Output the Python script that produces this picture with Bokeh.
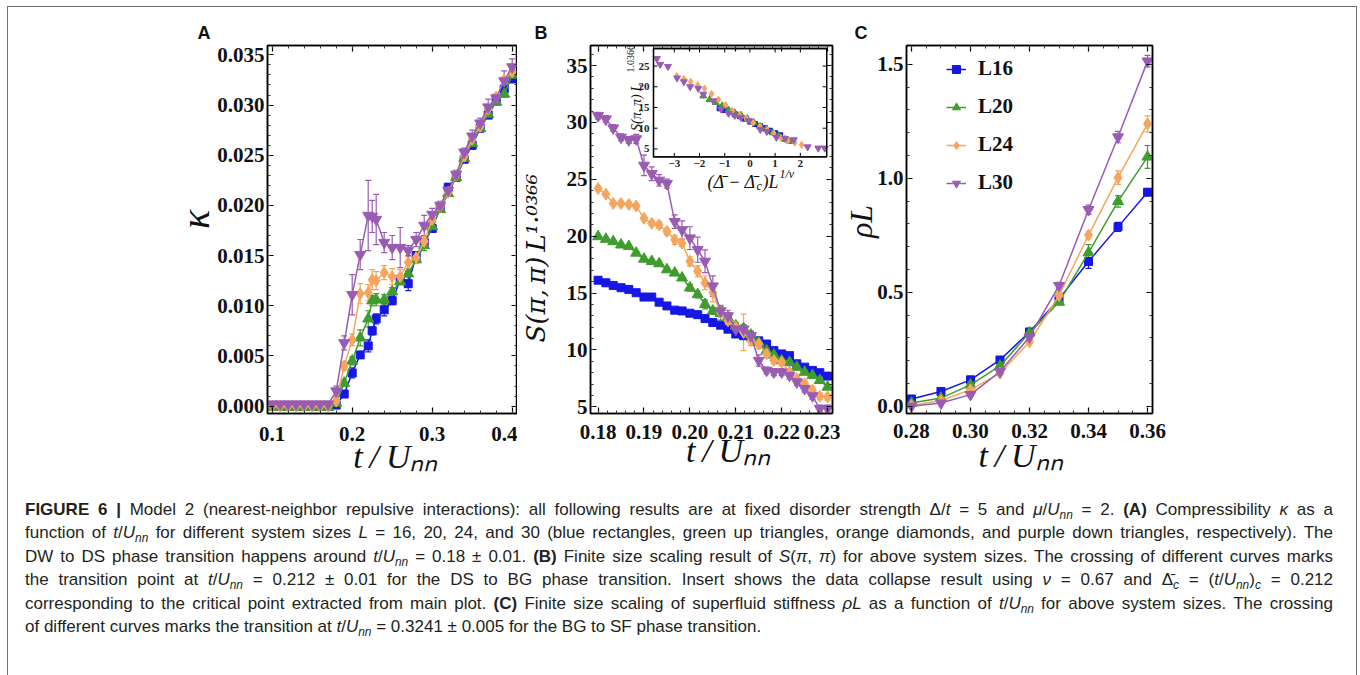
import numpy as np
from math import pi
from bokeh.plotting import figure
from bokeh.models import (ColumnDataSource, Whisker, TeeHead, Label, Legend, LegendItem,
                          LinearAxis, FixedTicker, Range1d, Div)
from bokeh.layouts import row, column
from bokeh.embed import file_html
from bokeh.resources import INLINE
from bokeh.core.properties import value

# ------------------------------------------------------------------ data
SERIES = ["L16", "L20", "L24", "L30"]

# Panel A : compressibility kappa vs t/U_nn
A_T = [0.10, 0.11, 0.12, 0.13, 0.14, 0.15, 0.16, 0.17, 0.18, 0.19, 0.20, 0.21, 0.22, 0.225,
       0.23, 0.24, 0.25, 0.26, 0.27, 0.28, 0.29, 0.30, 0.31, 0.32, 0.33, 0.34, 0.35, 0.36,
       0.37, 0.38, 0.39, 0.40]
A_K16 = [0.0, 0.0, 0.0, 0.0, 0.0, 0.0, 0.0, 0.0, 0.0001, 0.0012, 0.0033, 0.0051, 0.0060, 0.0075,
         0.0087, 0.0096, 0.0105, 0.0126, 0.0122, 0.0150, 0.0163, 0.0177, 0.0198, 0.0218, 0.0228,
         0.0246, 0.0260, 0.0277, 0.0290, 0.0305, 0.0316, 0.0326]
A_K20 = [-0.0001, -0.0001, -0.0001, -0.0001, -0.0001, -0.0001, -0.0001, -0.0001, 0.0003, 0.0023,
         0.0045, 0.0068, 0.0087, 0.0105, 0.0106, 0.0106, 0.0114, 0.0124, 0.0132, 0.0146, 0.0160,
         0.0179, 0.0196, 0.0212, 0.0228, 0.0247, 0.0262, 0.0277, 0.0291, 0.0303, 0.0311, 0.0330]
A_K24 = [0.0, 0.0, 0.0, 0.0, 0.0, 0.0, 0.0, 0.0, 0.0005, 0.0040, 0.0066, 0.0112, 0.0113, 0.0126,
         0.0125, 0.0133, 0.0129, 0.0129, 0.0143, 0.0148, 0.0164, 0.0186, 0.0199, 0.0213, 0.0230,
         0.0249, 0.0266, 0.0279, 0.0296, 0.0308, 0.0325, 0.0333]
A_K30 = [0.0002, 0.0002, 0.0002, 0.0002, 0.0002, 0.0002, 0.0002, 0.0002, 0.0015, 0.0063, 0.0111,
         0.0151, 0.0190, 0.0189, 0.0186, 0.0163, 0.0158, 0.0158, 0.0155, 0.0166, 0.0180, 0.0191,
         0.0200, 0.0215, 0.0231, 0.0253, 0.0269, 0.0282, 0.0298, 0.0307, 0.0324, 0.0338]
A_E16 = [0.0001, 0.0001, 0.0001, 0.0001, 0.0001, 0.0001, 0.0001, 0.0001, 0.0002, 0.0003, 0.0005,
         0.0003, 0.0006, 0.0004, 0.0005, 0.0006, 0.0004, 0.0003, 0.0007, 0.0003, 0.0003, 0.0003,
         0.0003, 0.0004, 0.0003, 0.0003, 0.0004, 0.0003, 0.0003, 0.0003, 0.0003, 0.0003]
A_E20 = [0.0001, 0.0001, 0.0001, 0.0001, 0.0001, 0.0001, 0.0001, 0.0001, 0.0002, 0.0003, 0.0004,
         0.0008, 0.0008, 0.0005, 0.0006, 0.0005, 0.0004, 0.0003, 0.0003, 0.0003, 0.0005, 0.0003,
         0.0003, 0.0003, 0.0003, 0.0003, 0.0003, 0.0003, 0.0003, 0.0003, 0.0003, 0.0003]
A_E24 = [0.0001, 0.0001, 0.0001, 0.0001, 0.0001, 0.0001, 0.0001, 0.0001, 0.0003, 0.0004, 0.0006,
         0.0010, 0.0008, 0.0010, 0.0009, 0.0007, 0.0008, 0.0007, 0.0006, 0.0006, 0.0005, 0.0004,
         0.0003, 0.0003, 0.0003, 0.0003, 0.0004, 0.0003, 0.0003, 0.0003, 0.0003, 0.0003]
A_E30 = [0.0001, 0.0001, 0.0001, 0.0001, 0.0001, 0.0001, 0.0001, 0.0001, 0.0005, 0.0007, 0.0020,
         0.0015, 0.0035, 0.0016, 0.0025, 0.0010, 0.0012, 0.0020, 0.0005, 0.0007, 0.0010, 0.0006,
         0.0004, 0.0004, 0.0004, 0.0004, 0.0006, 0.0005, 0.0008, 0.0004, 0.0010, 0.0008]

# Panel B : S(pi,pi) L^1.0366 vs t/U_nn
B_T = [0.1800, 0.1817, 0.1833, 0.1850, 0.1867, 0.1883, 0.1900, 0.1917, 0.1933, 0.1950, 0.1967,
       0.1983, 0.2000, 0.2017, 0.2033, 0.2050, 0.2067, 0.2083, 0.2100, 0.2117, 0.2133, 0.2150,
       0.2167, 0.2183, 0.2200, 0.2217, 0.2233, 0.2250, 0.2267, 0.2283, 0.2300]
B_S16 = [16.13, 15.90, 15.67, 15.47, 15.32, 15.03, 14.65, 14.65, 14.20, 13.87, 13.50, 13.43, 13.23,
         13.10, 12.76, 12.41, 12.18, 11.83, 11.40, 11.25, 11.10, 10.80, 10.52, 9.94, 9.65, 9.50,
         8.78, 8.49, 8.20, 8.00, 7.70]
B_S20 = [19.97, 19.74, 19.53, 19.24, 19.10, 18.52, 17.99, 17.79, 17.59, 17.06, 16.77, 16.34, 15.47,
         14.88, 14.01, 13.43, 13.23, 12.85, 12.12, 11.89, 11.31, 10.67, 9.94, 9.56, 9.07, 8.92,
         8.49, 8.05, 7.76, 7.33, 6.74]
B_S24 = [24.19, 23.69, 22.88, 22.88, 22.79, 22.65, 21.57, 21.13, 20.99, 20.41, 19.68, 19.39, 17.79,
         16.92, 15.90, 15.03, 13.28, 12.56, 11.98, 11.54, 10.81, 10.52, 9.65, 9.07, 8.92, 8.05,
         7.47, 7.03, 6.45, 5.93, 5.87]
B_S30 = [30.58, 30.29, 29.50, 28.69, 28.46, 28.55, 26.22, 25.49, 24.91, 24.62, 21.28, 20.55, 19.83,
         18.81, 17.79, 15.61, 13.43, 12.99, 11.83, 11.83, 11.25, 9.07, 8.20, 8.05, 8.05, 7.76,
         7.18, 6.60, 5.96, 4.85, 4.85]
B_E16 = [0.15, 0.15, 0.15, 0.15, 0.15, 0.15, 0.15, 0.15, 0.15, 0.15, 0.15, 0.15, 0.15, 0.15, 0.2,
         0.2, 0.2, 0.2, 0.2, 0.2, 0.2, 0.15, 0.15, 0.15, 0.15, 0.15, 0.15, 0.15, 0.15, 0.15, 0.15]
B_E20 = [0.15, 0.15, 0.15, 0.15, 0.15, 0.15, 0.15, 0.15, 0.2, 0.2, 0.2, 0.2, 0.3, 0.3, 0.4, 0.3,
         0.6, 0.4, 0.3, 0.3, 0.3, 0.3, 0.3, 0.4, 0.4, 0.3, 0.2, 0.2, 0.2, 0.2, 0.2]
B_E24 = [0.2, 0.2, 0.2, 0.2, 0.2, 0.2, 0.2, 0.2, 0.3, 0.3, 0.4, 0.3, 0.4, 0.5, 0.6, 0.8, 0.4, 0.4,
         0.4, 1.6, 0.4, 0.4, 0.3, 0.3, 0.3, 0.3, 0.3, 0.3, 0.3, 0.3, 0.3]
B_E30 = [0.3, 0.3, 0.3, 0.3, 0.3, 0.4, 0.9, 0.6, 0.5, 0.4, 0.6, 0.8, 1.0, 1.1, 1.0, 0.9, 0.5, 0.5,
         0.5, 0.4, 0.4, 0.5, 0.3, 0.3, 0.3, 0.3, 0.3, 0.3, 0.3, 0.3, 0.3]

# Panel B inset : data collapse
IN_X16 = [-1.20, -1.00, -0.80, -0.60, -0.40, -0.20, 0.00, 0.20, 0.40, 0.60, 0.80, 1.00, 1.20]
IN_Y16 = [14.8, 14.4, 14.0, 13.4, 12.9, 12.3, 11.6, 11.0, 10.5, 10.0, 9.4, 8.8, 8.3]
IN_X20 = [-1.85, -1.60, -1.35, -1.10, -0.85, -0.60, -0.35, -0.10, 0.15, 0.40, 0.65, 0.90, 1.15,
          1.40, 1.60]
IN_Y20 = [17.8, 16.9, 16.2, 15.4, 14.4, 13.7, 13.1, 12.3, 11.4, 10.5, 9.8, 8.9, 8.2, 7.3, 6.8]
IN_X24 = [-2.90, -2.62, -2.35, -2.07, -1.80, -1.52, -1.25, -0.97, -0.70, -0.42, -0.15, 0.13, 0.40,
          0.68, 0.95, 1.23, 1.50, 1.78, 2.05]
IN_Y24 = [22.6, 21.9, 21.2, 20.4, 19.6, 18.3, 16.9, 15.6, 14.2, 13.2, 12.4, 11.3, 10.5, 9.6, 8.8,
          7.7, 7.0, 6.5, 6.0]
IN_X30 = [-3.69, -3.56, -3.25, -2.89, -2.62, -2.37, -2.05, -1.85, -1.45, -1.14, -0.85, -0.60,
          -0.36, -0.05, 0.41, 0.67, 1.05, 1.40, 1.74, 2.29, 2.71, 2.97]
IN_Y30 = [26.8, 25.4, 24.9, 22.1, 21.2, 20.0, 19.6, 18.2, 16.6, 14.6, 13.6, 13.1, 12.6, 11.8, 9.7,
          9.2, 7.8, 7.5, 7.2, 5.5, 5.2, 5.2]
IN_E30 = [1.0, 0.9, 0.3, 0.7, 0.5, 0.9, 0.6, 0.5, 0.6, 1.0, 0.6, 0.7, 0.8, 0.5, 0.6, 0.5, 0.4, 0.4,
          0.4, 0.2, 0.2, 0.2]

# Panel C : rho L vs t/U_nn
C_T = [0.28, 0.29, 0.30, 0.31, 0.32, 0.33, 0.34, 0.35, 0.36]
C_R16 = [0.032, 0.065, 0.116, 0.203, 0.326, 0.471, 0.635, 0.787, 0.939]
C_R20 = [0.014, 0.036, 0.094, 0.177, 0.322, 0.457, 0.674, 0.899, 1.094]
C_R24 = [0.003, 0.025, 0.072, 0.145, 0.283, 0.486, 0.751, 1.003, 1.239]
C_R30 = [0.000, 0.014, 0.051, 0.152, 0.304, 0.529, 0.862, 1.181, 1.514]
C_E16 = [0.005, 0.005, 0.005, 0.005, 0.008, 0.010, 0.030, 0.020, 0.015]
C_E20 = [0.005, 0.005, 0.005, 0.006, 0.008, 0.010, 0.035, 0.025, 0.050]
C_E24 = [0.004, 0.004, 0.005, 0.006, 0.008, 0.015, 0.015, 0.030, 0.035]
C_E30 = [0.004, 0.004, 0.005, 0.008, 0.010, 0.015, 0.020, 0.025, 0.025]

# ticks
A_XTICKS = [0.1, 0.2, 0.3, 0.4]
A_XLABELS = ["0.1", "0.2", "0.3", "0.4"]
A_YTICKS = [0.0, 0.005, 0.01, 0.015, 0.02, 0.025, 0.03, 0.035]
A_YLABELS = ["0.000", "0.005", "0.010", "0.015", "0.020", "0.025", "0.030", "0.035"]
B_XTICKS = [0.18, 0.19, 0.2, 0.21, 0.22, 0.23]
B_XLABELS = ["0.18", "0.19", "0.20", "0.21", "0.22", "0.23"]
B_YTICKS = [5, 10, 15, 20, 25, 30, 35]
B_YLABELS = ["5", "10", "15", "20", "25", "30", "35"]
IN_XTICKS = [-3, -2, -1, 0, 1, 2]
IN_XLABELS = ["\u22123", "\u22122", "\u22121", "0", "1", "2"]
IN_YTICKS = [5, 10, 15, 20, 25]
IN_YLABELS = ["5", "10", "15", "20", "25"]
C_XTICKS = [0.28, 0.30, 0.32, 0.34, 0.36]
C_XLABELS = ["0.28", "0.30", "0.32", "0.34", "0.36"]
C_YTICKS = [0.0, 0.5, 1.0, 1.5]
C_YLABELS = ["0.0", "0.5", "1.0", "1.5"]

# ------------------------------------------------------------------ style
COLORS = ["#1616e6", "#3f9d2f", "#f5a65c", "#9a5cb3"]
MARKERS = ["square", "triangle", "diamond", "inverted_triangle"]
MSIZE = [8, 11, 12, 11]
SERIF = "Liberation Serif"
SERIF2 = "DejaVu Serif"
SANS = "Liberation Sans"
TH, EN, EM = "\u2009", "\u2002", "\u2003"
XLABEL = "t" + TH + "/" + TH + "U\u2099\u2099"

# inset placement inside panel B (inset coordinate system)
IN_XVIEW = (-3.824, 3.043)
IN_YVIEW = (3.08, 29.24)
IN_XRANGE = (-6.323, 3.276)
IN_YRANGE = (-58.84, 29.96)


def base_fig(width, height, left, right, top, bottom, xr, yr, letter, offset):
    p = figure(width=width, height=height, x_range=Range1d(*xr), y_range=Range1d(*yr),
               output_backend="svg", toolbar_location=None, title=letter,
               x_axis_location=None, y_axis_location=None,
               min_border_left=left, min_border_right=right,
               min_border_top=top, min_border_bottom=bottom)
    p.xgrid.visible = False
    p.ygrid.visible = False
    p.outline_line_color = "black"
    p.outline_line_width = 1.5
    p.background_fill_color = "white"
    p.border_fill_color = "white"
    p.title.text_font = SANS
    p.title.text_font_style = "bold"
    p.title.text_font_size = "18px"
    p.title.text_color = "#111111"
    p.title.align = "left"
    p.title.offset = offset
    p.title.standoff = 6
    return p


def style_axis(ax, show, ticks, labels, standoff):
    ax.axis_line_color = "black"
    ax.axis_line_width = 1.5
    ax.major_tick_in = 6
    ax.major_tick_out = 0
    ax.minor_tick_in = 3
    ax.minor_tick_out = 0
    ax.major_tick_line_color = "black"
    ax.minor_tick_line_color = "#333333"
    ax.major_tick_line_width = 1.2
    if show:
        ax.major_label_overrides = dict(zip(ticks, labels))
        ax.major_label_text_font = SERIF
        ax.major_label_text_font_style = "bold"
        ax.major_label_text_font_size = "21px"
        ax.major_label_text_color = "#111111"
        ax.major_label_standoff = standoff
    else:
        ax.major_label_text_font_size = "0px"
        ax.major_label_text_color = None
        ax.major_label_standoff = 0


def add_axes(p, xt, xl, xmin_ticks, yt, yl, ymin_ticks, xstand, ystand,
             xlabel, xsize, xls, ylabel, ysize, yls, yfont=SERIF):
    axes = {}
    for loc in ("below", "above"):
        ax = LinearAxis(ticker=FixedTicker(ticks=xt, minor_ticks=xmin_ticks))
        style_axis(ax, loc == "below", xt, xl, xstand)
        p.add_layout(ax, loc)
        axes[loc] = ax
    for loc in ("left", "right"):
        ax = LinearAxis(ticker=FixedTicker(ticks=yt, minor_ticks=ymin_ticks))
        style_axis(ax, loc == "left", yt, yl, ystand)
        p.add_layout(ax, loc)
        axes[loc] = ax
    for loc, text, size, st, font in (("below", xlabel, xsize, xls, SERIF),
                                      ("left", ylabel, ysize, yls, yfont)):
        ax = axes[loc]
        ax.axis_label = text
        ax.axis_label_text_font = font
        ax.axis_label_text_font_style = "italic"
        ax.axis_label_text_font_size = size
        ax.axis_label_text_color = "#111111"
        ax.axis_label_standoff = st


def minor(lo, hi, step):
    return [float(v) for v in np.round(np.arange(lo, hi + step / 2, step), 6)]


def series(p, x, y, err, i, line=True, size=None, rn=None, cap=6):
    lo = [a - b for a, b in zip(y, err)] if err is not None else y
    hi = [a + b for a, b in zip(y, err)] if err is not None else y
    src = ColumnDataSource(dict(x=x, y=y, lo=lo, hi=hi))
    kw = {}
    if rn:
        kw = dict(x_range_name=rn[0], y_range_name=rn[1])
    c = COLORS[i]
    rl = None
    if line:
        rl = p.line("x", "y", source=src, line_color=c, line_width=1.5, **kw)
    if err is not None:
        w = Whisker(source=src, base="x", upper="hi", lower="lo", line_color=c, line_width=1.2,
                    upper_head=TeeHead(size=cap, line_color=c, line_width=1.2),
                    lower_head=TeeHead(size=cap, line_color=c, line_width=1.2), **kw)
        p.add_layout(w)
    rs = p.scatter("x", "y", source=src, marker=MARKERS[i], size=size or MSIZE[i],
                   fill_color=c, line_color=c, **kw)
    return rl, rs


def lab(p, text, x, y, size, style="italic", angle=0.0, align="left", baseline="alphabetic"):
    p.add_layout(Label(x=x, y=y, x_units="screen", y_units="screen", text=text,
                       text_font=SERIF, text_font_size=size, text_font_style=style,
                       angle=angle, text_align=align, text_baseline=baseline,
                       text_color="#111111"))


# ------------------------------------------------------------------ panel A
pA = base_fig(509, 480, 259, 0, 38, 70, (0.09413, 0.40663), (-0.000738, 0.035936), "A", -70)
add_axes(pA, A_XTICKS, A_XLABELS, minor(0.08, 0.42, 0.02),
         A_YTICKS, A_YLABELS, minor(0.0, 0.036, 0.001), 13, 3,
         TH + XLABEL, "34px", -6, EN + "\u03ba", "40px", -4)
for i, (k, e) in enumerate([(A_K16, A_E16), (A_K20, A_E20), (A_K24, A_E24), (A_K30, A_E30)]):
    series(pA, A_T, k, e, i)

# ------------------------------------------------------------------ panel B
pB = base_fig(323, 480, 68, 8, 37, 73, (0.17835, 0.23107), (4.414, 36.76), "B", -56)
add_axes(pB, B_XTICKS, B_XLABELS, minor(0.178, 0.232, 0.002),
         B_YTICKS, B_YLABELS, minor(4.0, 37.0, 1.0), 11, 3,
         EM + XLABEL, "34px", -10,
         "S(\u03c0," + TH + "\u03c0)" + TH + "L\u00b9\u00b7\u2070\u00b3\u2076\u2076" + EM + EM + TH,
         "26px", 13, yfont=SERIF2)
for i, (s, e) in enumerate([(B_S16, B_E16), (B_S20, B_E20), (B_S24, B_E24), (B_S30, B_E30)]):
    series(pB, B_T, s, e, i)

pB.extra_x_ranges = {"ix": Range1d(*IN_XRANGE)}
pB.extra_y_ranges = {"iy": Range1d(*IN_YRANGE)}
IK = dict(x_range_name="ix", y_range_name="iy")
pB.quad(left=[IN_XVIEW[0]], right=[IN_XVIEW[1]], bottom=[IN_YVIEW[0]], top=[IN_YVIEW[1]],
        fill_color="white", line_color="black", line_width=1.3, **IK)
nx, ny = len(IN_XTICKS), len(IN_YTICKS)
tick_kw = dict(length=4, length_units="screen", line_color="black", line_width=1.0, **IK)
pB.ray(x=IN_XTICKS, y=[IN_YVIEW[0]] * nx, angle=pi / 2, **tick_kw)
pB.ray(x=IN_XTICKS, y=[IN_YVIEW[1]] * nx, angle=-pi / 2, **tick_kw)
pB.ray(x=[IN_XVIEW[0]] * ny, y=IN_YTICKS, angle=0.0, **tick_kw)
pB.ray(x=[IN_XVIEW[1]] * ny, y=IN_YTICKS, angle=pi, **tick_kw)
pB.text(x=IN_XTICKS, y=[IN_YVIEW[0]] * nx, text=IN_XLABELS, text_align=value("center"),
        text_baseline=value("top"), y_offset=3, text_font=value(SERIF),
        text_font_style=value("bold"), text_font_size=value("11px"), text_color="#222222", **IK)
pB.text(x=[IN_XVIEW[0]] * ny, y=IN_YTICKS, text=IN_YLABELS, text_align=value("right"),
        text_baseline=value("middle"), x_offset=-4, text_font=value(SERIF),
        text_font_style=value("bold"), text_font_size=value("11px"), text_color="#222222", **IK)
series(pB, IN_X16, IN_Y16, None, 0, line=False, size=5, rn=("ix", "iy"))
series(pB, IN_X20, IN_Y20, None, 1, line=False, size=7, rn=("ix", "iy"))
series(pB, IN_X24, IN_Y24, None, 2, line=False, size=7, rn=("ix", "iy"))
series(pB, IN_X30, IN_Y30, IN_E30, 3, line=False, size=7, rn=("ix", "iy"), cap=4)
pB.quad(left=[IN_XVIEW[0]], right=[IN_XVIEW[1]], bottom=[IN_YVIEW[0]], top=[IN_YVIEW[1]],
        fill_color=None, line_color="black", line_width=1.3, **IK)
# inset axis titles (inside the main frame)
lab(pB, "S(\u03c0," + TH + "\u03c0)" + TH + "L", 46, 282.5, "14px", angle=pi / 2)
lab(pB, "1.0366", 40, 341, "10px", style="normal", angle=pi / 2)
lab(pB, "(\u0394\u0304 \u2212 \u0394\u0304", 117, 231.5, "18px")
lab(pB, "c", 166, 227.5, "12px")
lab(pB, ")L", 172, 231.5, "18px")
lab(pB, "1/\u03bd", 189, 240, "12px")

# ------------------------------------------------------------------ panel C
pC = base_fig(340, 480, 63, 28, 35, 74, (0.27832, 0.36168), (-0.0317, 1.5826), "C", -52)
add_axes(pC, C_XTICKS, C_XLABELS, minor(0.275, 0.365, 0.005),
         C_YTICKS, C_YLABELS, minor(-0.1, 1.6, 0.1), 10, 3,
         XLABEL + EN, "34px", -4, EN + "\u03c1L", "32px", -5)
items = []
for i, (r, e) in enumerate([(C_R16, C_E16), (C_R20, C_E20), (C_R24, C_E24), (C_R30, C_E30)]):
    rl, rs = series(pC, C_T, r, e, i)
    items.append(LegendItem(label=SERIES[i], renderers=[rl, rs]))
leg = Legend(items=items, location=(40, 218), padding=0, margin=0, spacing=13,
             glyph_width=20, glyph_height=24, label_height=24, label_standoff=12,
             label_text_font=SERIF, label_text_font_style="bold", label_text_font_size="21px",
             label_text_color="#111111", border_line_color=None, background_fill_alpha=0)
pC.add_layout(leg)

# ------------------------------------------------------------------ caption
SUB = '<sub style="font-size:70%;line-height:0;vertical-align:-0.3em">{}</sub>'
TU = "<i>t</i>/<i>U</i>" + SUB.format("<i>nn</i>")
LINES = [
    "<b>FIGURE 6 |</b> Model 2 (nearest-neighbor repulsive interactions): all following results are "
    "at fixed disorder strength \u0394/<i>t</i> = 5 and <i>\u03bc</i>/<i>U</i>" + SUB.format("<i>nn</i>")
    + " = 2. <b>(A)</b> Compressibility <i>\u03ba</i> as a",
    "function of " + TU + " for different system sizes <i>L</i> = 16, 20, 24, and 30 (blue rectangles, "
    "green up triangles, orange diamonds, and purple down triangles, respectively). The",
    "DW to DS phase transition happens around " + TU + " = 0.18 \u00b1 0.01. <b>(B)</b> Finite size "
    "scaling result of <i>S</i>(<i>\u03c0</i>, <i>\u03c0</i>) for above system sizes. The crossing "
    "of different curves marks",
    "the transition point at " + TU + " = 0.212 \u00b1 0.01 for the DS to BG phase transition. Insert "
    "shows the data collapse result using <i>\u03bd</i> = 0.67 and \u0394\u0304" + SUB.format("<i>c</i>")
    + " = (" + TU + ")" + SUB.format("<i>c</i>") + " = 0.212",
    "corresponding to the critical point extracted from main plot. <b>(C)</b> Finite size scaling of "
    "superfluid stiffness <i>\u03c1L</i> as a function of " + TU + " for above system sizes. The crossing",
    "of different curves marks the transition at " + TU + " = 0.3241 \u00b1 0.005 for the BG to SF "
    "phase transition.",
]
html = '<div style="font-family:\'Liberation Sans\',Arial,sans-serif;font-size:17px;' \
       'line-height:23.4px;color:#231f20;white-space:nowrap;width:1320px;padding:6px 0 0 12px;">'
for j, ln in enumerate(LINES):
    align = "left" if j == len(LINES) - 1 else "justify"
    html += ('<div style="text-align:justify;text-align-last:%s;">' % align) + ln + "</div>"
html += "</div>"
cap = Div(text=html, width=1338, height=190)

page = column(row(pA, pB, pC), cap, margin=(6, 0, 0, 7),
              styles={"border": "1.5px solid #707070"})

open("out.html", "w").write(file_html(page, INLINE))
